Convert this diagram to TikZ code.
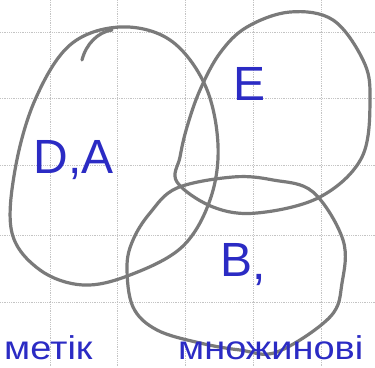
\documentclass[tikz,border=0pt]{standalone}
\usepackage{fontspec}
\newfontfamily\inkfont{Liberation Sans}
\definecolor{pencil}{HTML}{7A7A7A}
\definecolor{ink}{HTML}{2B2BC4}
\definecolor{gridgrey}{HTML}{C4C4C4}
\tikzset{
  blob/.style     = {draw=pencil, line width=3.2pt, line join=round, line cap=round},
  gridline/.style = {gridgrey, densely dotted, line width=0.8pt},
  lbl/.style      = {text=ink, font=\inkfont\fontsize{48}{52}\selectfont, inner sep=0pt},
  note/.style     = {text=ink, font=\inkfont\fontsize{33}{36}\selectfont, inner sep=0pt,
                     anchor=base west, xscale=1.15},
}

\begin{document}
\begin{tikzpicture}[x=1pt, y=-1pt]
  \useasboundingbox (0,0) rectangle (375,367);
  \clip (0,0) rectangle (375,367);
  \fill[white] (0,0) rectangle (375,367);
  % squared paper
  \foreach \x in {50,117,185,253,321} {
    \draw[gridline] (\x,0) -- (\x,367);
  }
  \foreach \y in {32,98,165,235,302} {
    \draw[gridline] (0,\y) -- (375,\y);
  }
  % left set
  \draw[blob] plot[smooth cycle, tension=0.6] coordinates {(120,27) (170,40) (205,85) (218,145)
    (210,200) (182,247) (130,275) (83,285) (40,270) (12,233) (15,170) (35,100) (70,45)};
  \draw[blob] (82,60) .. controls (86,44) and (98,32) .. (112,30);
  % upper right set
  \draw[blob] plot[smooth cycle, tension=0.6] coordinates {(290,12) (333,20) (363,60) (370,97)
    (362,157) (320,197) (257,213) (213,207) (177,182) (180,157) (187,127) (200,90) (220,53) (247,27)};
  % lower set
  \draw[blob] plot[smooth cycle, tension=0.6] coordinates {(177,188) (233,177) (273,180) (313,192)
    (343,240) (342,283) (330,317) (277,352) (240,350) (200,343) (157,330) (133,307) (127,267)
    (133,240) (150,213)};
  % labels
  \node[lbl] (da) at (74,160) {D,A};
  \node[lbl] (e) at (250,84) {E};
  \node[lbl] (b) at (237,260) {B};
  \node[lbl] (bc) at (259,280) {,};
  \node[note] (left) at (4,359) {метік};
  \node[note] (right) at (178,359) {множинові};
\end{tikzpicture}
\end{document}
